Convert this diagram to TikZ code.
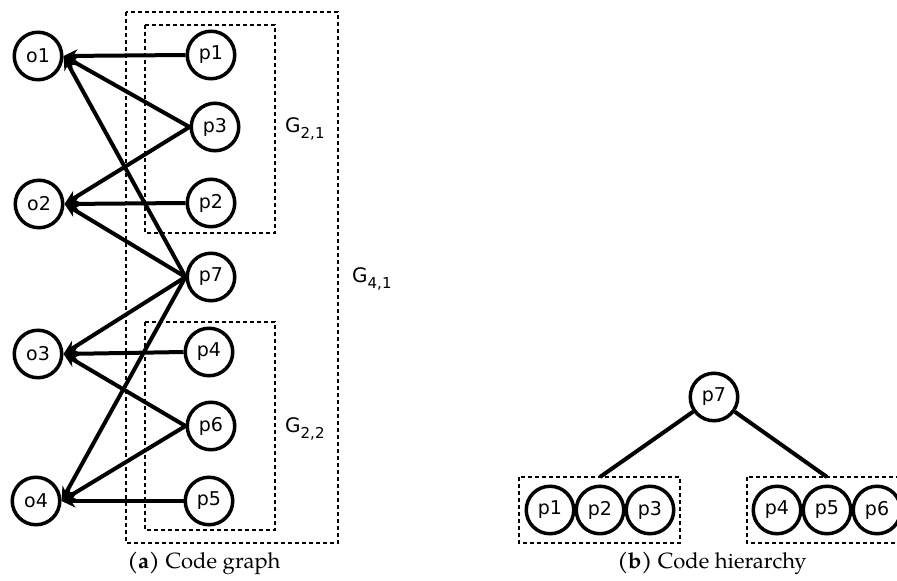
\documentclass[tikz,border=0pt]{standalone}
\usepackage{fontspec}
\setmainfont{TeX Gyre Pagella}
\newfontfamily\nodefont{DejaVu Sans}
\usetikzlibrary{arrows.meta}
\newcommand{\gsub}[1]{\raisebox{-0.32em}{\fontsize{15}{15}\selectfont #1}}
\begin{document}
\begin{tikzpicture}[x=1pt,y=-1pt,
  vert/.style={circle,draw,line width=3.5pt,minimum size=47.5pt,inner sep=0pt,font=\nodefont\fontsize{19}{19}\selectfont},
  edge/.style={line width=4pt,-{Stealth[length=14pt,width=13pt]}},
  tedge/.style={line width=4pt},
  grp/.style={draw,line width=2.5pt,dash pattern=on 4pt off 3pt},
  glabel/.style={font=\nodefont\fontsize{20}{20}\selectfont,anchor=west,inner sep=0pt},
  captext/.style={font=\fontsize{22}{22}\selectfont}]
\useasboundingbox (0,0) rectangle (897,581);
% groups (a)
\draw[grp] (126,12) rectangle (338,543);
\draw[grp] (145,25) rectangle (275,233);
\draw[grp] (145,322) rectangle (275,530);
\node[glabel] (g21) at (285,129) {G\gsub{2,1}};
\node[glabel] (g22) at (285,429) {G\gsub{2,2}};
\node[glabel] (g41) at (352,279) {G\gsub{4,1}};
% nodes (a)
\node[vert] (o1) at (38,56) {o1};
\node[vert] (o2) at (39,204) {o2};
\node[vert] (o3) at (38,354) {o3};
\node[vert] (o4) at (36,501) {o4};
\node[vert] (p1) at (211,55) {p1};
\node[vert] (p3) at (215,127) {p3};
\node[vert] (p2) at (211,203) {p2};
\node[vert] (p7) at (211,277) {p7};
\node[vert] (p4) at (209,352) {p4};
\node[vert] (p6) at (211,426) {p6};
\node[vert] (p5) at (209,501) {p5};
% edges (a)
\draw[edge] (p1.west) -- (o1.east);
\draw[edge] (p3.west) -- (o1.east);
\draw[edge] (p7.west) -- (o1.east);
\draw[edge] (p3.west) -- (o2.east);
\draw[edge] (p2.west) -- (o2.east);
\draw[edge] (p7.west) -- (o2.east);
\draw[edge] (p7.west) -- (o3.east);
\draw[edge] (p4.west) -- (o3.east);
\draw[edge] (p6.west) -- (o3.east);
\draw[edge] (p7.west) -- (o4.east);
\draw[edge] (p6.west) -- (o4.east);
\draw[edge] (p5.west) -- (o4.east);
\node[captext] (capa) at (204,563) {\textbf{(a)} Code graph};
% hierarchy (b)
\node[vert] (h7) at (714,397) {p7};
\node[vert] (h1) at (550,510) {p1};
\node[vert] (h2) at (600,510) {p2};
\node[vert] (h3) at (650,510) {p3};
\node[vert] (h4) at (777,510) {p4};
\node[vert] (h5) at (827,510) {p5};
\node[vert] (h6) at (877,510) {p6};
\draw[grp] (519,477) rectangle (680,543);
\draw[grp] (747,477) rectangle (908,543);
\coordinate (lt) at (600,477);
\coordinate (rt) at (827,477);
\draw[tedge] (h7) -- (lt);
\draw[tedge] (h7) -- (rt);
\node[captext] (capb) at (712,563) {\textbf{(b)} Code hierarchy};
\end{tikzpicture}
\end{document}
